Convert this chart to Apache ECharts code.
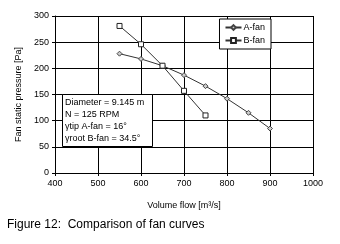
<!DOCTYPE html>
<html>
<head>
<meta charset="utf-8">
<script src="https://cdn.jsdelivr.net/npm/echarts@6/dist/echarts.min.js"></script>
<style>
  html, body { margin: 0; padding: 0; background: #fff; }
  #chart { width: 340px; height: 244px; }
</style>
</head>
<body>
<div id="chart"></div>
<script>
// fan curve data
const aFlow = [550, 600, 650, 700, 750, 800, 850, 900];
const aPressure = [228, 218, 205, 187, 166, 142, 115, 85];
const bFlow = [550, 600, 650, 700, 750];
const bPressure = [281, 246, 205, 157, 110];
const infoLines = [
  "Diameter = 9.145 m",
  "N = 125 RPM",
  "γtip A-fan = 16°",
  "γroot B-fan = 34.5°",
];

const font = "Arial, 'Liberation Sans', sans-serif";
const chart = echarts.init(document.getElementById("chart"));

const toPairs = (xs, ys) => xs.map((x, i) => [x, ys[i]]);

chart.setOption({
  animation: false,
  grid: { left: 55, right: 27, top: 16, bottom: 71 },
  legend: {
    right: 69,
    top: 19,
    orient: "vertical",
    itemGap: 4,
    itemWidth: 16,
    itemHeight: 6,
    padding: [4, 6, 4, 5],
    borderColor: "#000",
    borderWidth: 1,
    borderRadius: 0,
    backgroundColor: "#fff",
    textStyle: { fontFamily: font, fontSize: 9, color: "#000", padding: [0, 0, 0, -3] },
    data: ["A-fan", "B-fan"],
  },
  xAxis: {
    type: "value",
    min: 400,
    max: 1000,
    interval: 100,
    name: "Volume flow [m³/s]",
    nameLocation: "middle",
    nameGap: 28,
    nameTextStyle: { fontFamily: font, fontSize: 9, color: "#000" },
    axisLine: { lineStyle: { color: "#000" } },
    axisTick: { show: true, length: 3, inside: false, lineStyle: { color: "#000" } },
    axisLabel: { fontFamily: font, fontSize: 9, color: "#000", margin: 6, formatter: (v) => String(v) },
    splitLine: { show: true, lineStyle: { color: "#000", width: 1 } },
  },
  yAxis: {
    type: "value",
    min: 0,
    max: 300,
    interval: 50,
    name: "Fan static pressure [Pa]",
    nameLocation: "middle",
    nameGap: 30,
    nameTextStyle: { fontFamily: font, fontSize: 9, color: "#000" },
    axisLine: { show: true, lineStyle: { color: "#000" } },
    axisTick: { show: true, length: 3, lineStyle: { color: "#000" } },
    axisLabel: { fontFamily: font, fontSize: 9, color: "#000", margin: 6 },
    splitLine: { show: true, lineStyle: { color: "#000", width: 1 } },
  },
  series: [
    {
      name: "A-fan",
      type: "line",
      data: toPairs(aFlow, aPressure),
      symbol: "diamond",
      symbolSize: 5,
      lineStyle: { color: "#333", width: 1 },
      itemStyle: { color: "#ccc", borderColor: "#444", borderWidth: 1 },
    },
    {
      name: "B-fan",
      type: "line",
      data: toPairs(bFlow, bPressure),
      symbol: "rect",
      symbolSize: 5,
      lineStyle: { color: "#333", width: 1 },
      itemStyle: { color: "#fff", borderColor: "#222", borderWidth: 1 },
    },
  ],
  graphic: [
    {
      type: "rect",
      left: 62,
      top: 94,
      z: 10,
      shape: { width: 90, height: 52 },
      style: { fill: "#fff", stroke: "#000", lineWidth: 1 },
    },
    {
      type: "text",
      left: 65,
      top: 97,
      z: 11,
      style: {
        text: infoLines.join("\n"),
        font: "9px " + font,
        lineHeight: 12,
        fill: "#000",
      },
    },
    {
      type: "text",
      left: 7,
      top: 219,
      style: {
        text: "Figure 12:  Comparison of fan curves",
        font: "12px " + font,
        fill: "#000",
      },
    },
  ],
});
</script>
</body>
</html>
